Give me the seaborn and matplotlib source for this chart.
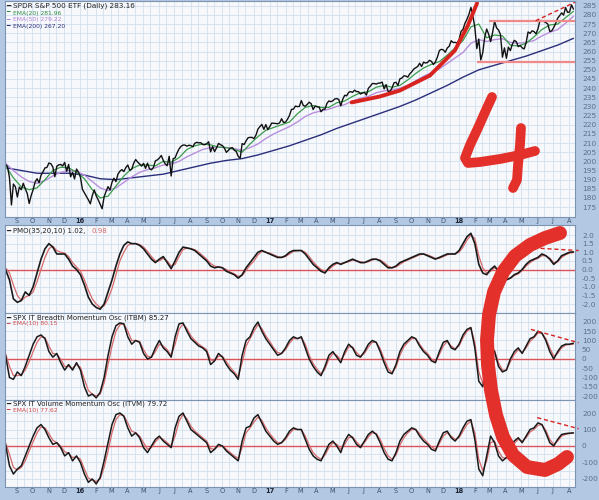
import numpy as np
import pandas as pd
import matplotlib
matplotlib.use("Agg")
import matplotlib.pyplot as plt
import seaborn as sns

sns.set_theme(style="white")
plt.rcParams["font.family"] = ["DejaVu Sans"]

# ---------------- data ----------------
START, END = "2015-08-10", "2018-08-10"

price = [
    198.2, 197.2, 191.1, 176.2, 187.6, 186.1,
    180.5, 185.9, 184.5, 188.0, 185.0, 182.5, 177.0, 181.3,
    184.5, 188.7, 190.5, 188.3, 192.4, 194.3, 196.4, 196.7,
    199.1, 198.7, 196.9, 191.6, 197.3, 198.1, 198.3, 197.5,
    199.4, 194.6, 198.3, 191.6, 194.0, 190.4, 195.8, 194.1,
    191.3, 184.7, 182.8, 180.9, 179.0, 176.8, 181.3, 184.4,
    181.1, 179.0, 176.5, 174.1, 180.7, 183.6, 186.2, 184.3,
    188.6, 190.8, 188.9, 193.0, 194.6, 195.5, 194.4, 196.6,
    198.0, 195.1, 195.7, 199.0, 201.0, 199.6, 198.6, 197.4,
    198.9, 196.2, 199.0, 196.0, 195.4, 196.6, 200.3, 200.8,
    201.8, 203.2, 200.5, 198.6, 197.6, 202.8, 192.0, 201.5,
    201.9, 204.6, 206.8, 208.2, 208.9, 208.9, 208.3, 208.8,
    208.6, 208.0, 209.9, 210.4, 210.1, 210.2, 209.2, 209.1,
    209.6, 210.7, 205.2, 208.1, 205.3, 207.3, 209.8, 209.1,
    208.6, 207.2, 204.9, 206.0, 207.2, 207.5, 206.1, 205.4,
    202.7, 201.7, 209.7, 209.2, 211.2, 212.9, 213.1, 213.1,
    212.4, 214.3, 217.6, 219.0, 220.2, 217.5, 220.1, 217.3,
    219.0, 220.9, 220.8, 220.7, 220.5, 221.0, 223.3, 221.2,
    221.5, 223.0, 225.1, 228.4, 228.5, 230.2, 229.9, 230.0,
    233.2, 230.5, 230.1, 231.1, 232.3, 231.5, 228.3, 230.2,
    229.8, 229.7, 227.1, 228.5, 228.5, 231.7, 233.0, 232.6,
    233.1, 234.1, 234.3, 233.8, 230.3, 233.9, 236.1, 235.8,
    237.7, 238.1, 237.7, 238.9, 238.1, 238.1, 236.8, 237.3,
    237.7, 236.2, 239.9, 241.1, 242.5, 242.5, 242.2, 242.7,
    242.8, 243.3, 239.6, 241.9, 238.2, 238.2, 240.1, 242.9,
    243.2, 241.5, 245.1, 245.5, 246.7, 246.6, 246.0, 247.8,
    248.9, 250.4, 251.1, 251.8, 253.6, 251.8, 254.2, 253.7,
    254.0, 255.2, 254.6, 252.9, 254.4, 256.9, 260.5, 261.2,
    260.9, 259.6, 261.9, 262.9, 265.9, 264.9, 265.0, 264.6,
    266.5, 271.0, 272.1, 275.5, 277.6, 280.3, 284.1, 279.5,
    273.1, 261.6, 266.8, 255.4, 259.3, 267.7, 272.3, 269.4,
    265.4, 270.4, 276.5, 272.9, 271.8, 269.2, 256.9, 262.0,
    256.3, 262.4, 260.5, 264.0, 266.1, 265.4, 262.7, 263.3,
    262.0, 261.4, 264.8, 270.7, 269.9, 271.3, 270.9, 269.7,
    272.3, 276.9, 276.9, 276.4, 275.8, 275.0, 271.0, 271.3,
    273.1, 275.4, 278.2, 279.6, 281.1, 279.9, 284.0, 281.4,
    281.5, 285.5, 283.16,
]

ema20 = [
    197.5, 191.0, 186.0, 184.5, 185.5, 190.0, 195.0, 196.8, 196.5, 194.0,
    190.5, 184.5, 180.0, 181.0, 186.5, 192.0, 196.0, 198.0, 198.0, 197.5,
    200.0, 199.5, 202.0, 206.5, 208.5, 209.5, 209.0, 207.8, 207.5, 206.5,
    205.0, 209.5, 213.5, 217.0, 218.5, 220.0, 221.5, 226.0, 229.5, 230.5,
    229.5, 229.5, 232.0, 233.0, 235.5, 237.5, 238.0, 240.5, 241.5, 240.5,
    241.5, 244.5, 248.0, 251.0, 253.0, 254.5, 258.0, 262.0, 266.0, 273.5,
    275.0, 267.5, 269.0, 268.5, 263.5, 263.0, 264.5, 268.0, 272.0, 274.5,
    275.0, 278.5, 281.96,
]

ema50 = [
    199.0, 195.0, 191.5, 189.0, 188.0, 189.5, 192.0, 194.0, 195.0, 194.5,
    192.5, 189.0, 185.5, 184.0, 185.5, 188.5, 191.5, 194.0, 195.5, 196.5,
    198.0, 198.5, 200.0, 202.5, 204.5, 206.5, 207.5, 207.8, 207.5, 207.0,
    206.0, 207.5, 209.5, 212.5, 215.0, 217.0, 219.0, 221.5, 224.5, 226.5,
    227.5, 228.5, 230.0, 231.0, 233.0, 234.5, 235.5, 237.5, 238.5, 239.0,
    240.0, 241.5, 244.0, 246.5, 248.5, 250.5, 253.5, 256.5, 259.5, 264.5,
    266.5, 265.5, 266.5, 267.0, 265.0, 264.5, 265.0, 266.0, 268.5, 270.5,
    272.0, 275.5, 279.22,
]

ema200 = [
    196.5, 195.0, 193.5, 193.5, 193.5, 192.5, 190.5, 190.0, 191.0, 192.0,
    193.0, 195.0, 197.0, 199.0, 200.5, 201.5, 203.5, 206.0, 208.5, 211.5,
    214.5, 218.0, 221.0, 224.0, 227.0, 230.0, 233.5, 237.5, 241.5, 246.0,
    250.0, 252.5, 255.0, 257.5, 260.5, 263.5, 267.2,
]

pmo = [
    0.0, -0.6, -1.7,
    -1.9, -1.8, -1.3, -1.5,  -1.0, -0.2, 0.6, 1.2,  1.5, 1.3, 0.9, 0.9,
    0.9, 0.6, 0.2, 0.0,  -0.3, -0.9, -1.6, -2.0,  -2.2, -2.3, -2.0, -1.3,
    -0.6, 0.2, 0.9, 1.4,  1.6, 1.5, 1.5, 1.4,  1.2, 0.9, 0.6, 0.4,
    0.6, 0.75, 0.4, 0.05,  0.5, 1.0, 1.3, 1.25,  1.2, 1.1, 0.9, 0.7,
    0.5, 0.2, 0.1, 0.15,  0.1, -0.1, -0.2, -0.3,  -0.5, -0.3, 0.1, 0.4,
    0.7, 1.0, 1.1, 1.0,  0.9, 0.8, 0.7, 0.7,  0.8, 1.0, 1.1, 1.1,
    1.1, 0.9, 0.6, 0.3,  0.1, -0.1, -0.2, 0.1,  0.3, 0.4, 0.3, 0.4,
    0.5, 0.6, 0.5, 0.4,  0.4, 0.5, 0.6, 0.6,  0.5, 0.3, 0.1, 0.1,
    0.2, 0.4, 0.5, 0.6,  0.7, 0.8, 0.9, 0.9,  0.8, 0.7, 0.6, 0.7,
    0.8, 0.9, 0.9, 0.9,  1.1, 1.5, 1.9, 2.1,  1.5, 0.3, -0.2, -0.3,
    0.0, 0.2, -0.1, -0.4,  -0.6, -0.5, -0.3, -0.2,  0.0, 0.3, 0.5, 0.6,
    0.7, 0.9, 0.8, 0.6,  0.3, 0.5, 0.8, 0.9,
    1.0, 1.02,
]

pmo_signal = [
    0.1, -0.2, -0.9,
    -1.5, -1.8, -1.6, -1.5,  -1.3, -0.7, 0.0, 0.7,  1.2, 1.35, 1.1, 1.0,
    0.95, 0.75, 0.4, 0.15,  -0.1, -0.6, -1.2, -1.7,  -2.0, -2.2, -2.1, -1.7,
    -1.1, -0.3, 0.5, 1.0,  1.4, 1.5, 1.5, 1.45,  1.3, 1.05, 0.75, 0.5,
    0.5, 0.65, 0.5, 0.2,  0.3, 0.75, 1.15, 1.25,  1.2, 1.15, 1.0, 0.8,
    0.6, 0.35, 0.2, 0.15,  0.1, 0.0, -0.15, -0.25,  -0.4, -0.35, -0.05, 0.25,
    0.5, 0.85, 1.05, 1.0,  0.95, 0.85, 0.75, 0.7,  0.75, 0.9, 1.05, 1.1,
    1.1, 1.0, 0.75, 0.45,  0.2, 0.0, -0.1, 0.0,  0.2, 0.35, 0.35, 0.4,
    0.45, 0.55, 0.5, 0.45,  0.4, 0.45, 0.55, 0.6,  0.55, 0.4, 0.2, 0.1,
    0.15, 0.3, 0.45, 0.55,  0.65, 0.75, 0.85, 0.9,  0.85, 0.75, 0.65, 0.65,
    0.75, 0.85, 0.9, 0.9,  1.0, 1.3, 1.7, 2.0,  1.8, 0.8, 0.1, -0.2,
    -0.1, 0.1, 0.0, -0.25,  -0.5, -0.5, -0.35, -0.25,  -0.05, 0.2, 0.4, 0.55,
    0.65, 0.8, 0.8, 0.65,  0.4, 0.45, 0.7, 0.85,
    0.95, 0.98,
]

itbm = [
    20, -100, -110,
    -70, -90, -40, 20,  80, 120, 130, 110,  40, 10, 30, -20,
    -60, -30, -60, -20,  -60, -150, -200, -190,  -210, -180, -100, 20,
    120, 180, 195, 190,  120, 80, 100, 90,  30, 0, 10, 60,
    100, 60, 40, 10,  120, 190, 195, 150,  110, 90, 70, 60,
    40, -30, -10, 30,  10, -30, -60, -80,  -110, 20, 100, 120,
    170, 200, 150, 110,  80, 50, 20, 30,  60, 100, 120, 110,
    120, 60, 0, -40,  -70, -90, -40, 20,  40, 10, -20, 40,
    80, 60, 20, 10,  40, 80, 100, 90,  40, -20, -70, -80,
    -30, 40, 80, 100,  120, 110, 70, 40,  20, -10, -20, 40,
    90, 100, 60, 50,  80, 130, 160, 170,  60, -120, -150, -40,
    80, 40, -40, -70,  -60, 0, 40, 60,  30, 70, 110, 120,
    150, 140, 100, 40,  0, 40, 70, 80,
    80, 85.27,
]

itbm_signal = [
    30, -40, -90,
    -90, -85, -60, -15,  40, 90, 120, 115,  70, 30, 25, 0,
    -40, -40, -50, -30,  -45, -110, -170, -190,  -200, -190, -130, -30,
    70, 150, 185, 190,  150, 100, 100, 95,  50, 15, 10, 40,
    80, 70, 50, 20,  80, 160, 190, 165,  125, 100, 80, 65,
    50, -5, -10, 15,  15, -15, -45, -70,  -95, -20, 70, 110,
    150, 185, 165, 125,  95, 60, 35, 30,  50, 85, 110, 110,
    115, 80, 20, -25,  -55, -80, -55, 0,  30, 20, -5, 25,
    65, 65, 35, 15,  30, 65, 90, 90,  55, 0, -50, -75,
    -45, 20, 65, 90,  110, 110, 80, 50,  30, 0, -15, 25,
    70, 95, 70, 55,  70, 115, 150, 165,  90, -70, -130, -70,
    40, 45, -20, -60,  -60, -15, 25, 50,  35, 60, 95, 115,
    140, 140, 110, 60,  15, 30, 60, 75,
    78, 80.15,
]

itvm = [
    10, -120, -170,
    -140, -120, -60, 0,  60, 110, 130, 100,  50, 10, 20, -10,
    -60, -40, -90, -60,  -100, -170, -220, -200,  -230, -190, -90, 20,
    130, 190, 200, 180,  110, 60, 80, 50,  -10, -40, 0, 40,
    60, 30, 10, -10,  110, 180, 200, 150,  100, 80, 60, 40,
    20, -40, -20, 10,  0, -30, -50, -70,  -90, 30, 110, 120,
    170, 190, 140, 90,  60, 30, 10, 20,  50, 90, 110, 100,
    100, 40, -20, -60,  -80, -90, -40, 10,  30, 0, -40, 30,
    70, 50, 10, -10,  30, 70, 90, 70,  20, -40, -80, -90,
    -40, 30, 70, 90,  110, 100, 60, 30,  10, -20, -30, 30,
    80, 90, 50, 30,  60, 110, 150, 160,  40, -140, -180, -60,
    60, 20, -60, -90,  -70, -10, 30, 50,  20, 60, 100, 110,
    140, 130, 80, 20,  0, 40, 70, 75,
    78, 79.72,
]

itvm_signal = [
    20, -50, -130,
    -145, -130, -90, -30,  25, 80, 115, 110,  75, 35, 20, 0,
    -35, -45, -70, -65,  -80, -140, -195, -205,  -215, -200, -130, -30,
    80, 160, 190, 185,  140, 90, 80, 60,  20, -20, -10, 25,
    50, 40, 20, 0,  60, 150, 190, 165,  120, 90, 70, 50,
    30, -15, -20, 0,  0, -20, -40, -60,  -75, -10, 80, 110,
    145, 175, 155, 110,  75, 45, 20, 20,  40, 75, 100, 100,
    100, 60, 5, -40,  -65, -80, -55, -10,  20, 10, -20, 10,
    50, 55, 25, 0,  20, 55, 80, 75,  40, -15, -60, -80,
    -55, 5, 50, 80,  100, 100, 75, 45,  20, -5, -20, 15,
    60, 80, 60, 40,  50, 90, 130, 150,  80, -80, -150, -90,
    20, 30, -30, -70,  -75, -30, 15, 40,  30, 50, 85, 100,
    125, 130, 95, 40,  10, 30, 60, 70,
    75, 77.62,
]

main_ticks = list(range(175, 290, 5))
pmo_ticks = [-2.0, -1.5, -1.0, -0.5, 0.0, 0.5, 1.0, 1.5, 2.0]
itbm_ticks = [-200, -150, -100, -50, 0, 50, 100, 150, 200]
itvm_ticks = [-200, -100, 0, 100, 200]

main_legend = [("SPDR S&P 500 ETF (Daily) 283.16", "#222222"),
               ("EMA(20) 281.96", "#2e8b3e"),
               ("EMA(50) 279.22", "#b57fd6"),
               ("EMA(200) 267.20", "#2b2f7a")]

# hand-drawn annotations (data units of their panel)
swoosh_dates = ["2017-06-08", "2017-08-01", "2017-09-09", "2017-11-06", "2017-12-24", "2018-01-18", "2018-02-05"]
swoosh_vals = [232.2, 235.4, 238.7, 246.9, 260.5, 274.1, 286.4]
pink_upper = ("2018-02-28", 276.5)
pink_lower = ("2018-02-05", 254.1)
price_dash_dates, price_dash_vals = ["2018-05-29", "2018-08-15"], [276.8, 287.2]
pmo_dash_dates, pmo_dash_vals = ["2018-05-25", "2018-08-20"], [1.25, 1.1]
itbm_dash_dates, itbm_dash_vals = ["2018-05-20", "2018-08-20"], [160, 88]
itvm_dash_dates, itvm_dash_vals = ["2018-06-01", "2018-08-20"], [172, 105]

# big hand-drawn figure "4" and bracket (figure pixel units)
four_a_x = [492, 486, 478, 470, 465, 468, 480, 500, 520, 535]
four_a_y = [97, 110, 128, 145, 158, 163, 162, 159, 155, 151]
four_b_x = [521, 520, 518, 517, 513]
four_b_y = [128, 145, 165, 180, 188]
bracket_x = [560, 545, 530, 515, 503, 494, 489, 487, 488, 491, 496, 503, 513, 527, 545, 558, 567]
bracket_y = [233, 238, 245, 256, 272, 292, 315, 340, 365, 390, 415, 437, 455, 467, 470, 464, 457]

# ---------------- drawing ----------------
W, H = 599, 500
BG = "#b3c8e2"
PANEL = "#f6f8fc"
GRID = "#d3dfee"
SPINE = "#7d93b2"
TICK = "#5d7090"
ZERO = "#d9555a"
SIG = "#d86a6a"
HAND = "#e3302a"

XMIN, XMAX = pd.Timestamp("2015-08-09"), pd.Timestamp("2018-08-13")
month_starts = pd.date_range("2015-09-01", "2018-08-01", freq="MS")
month_labels = [("%02d" % (d.year % 100)) if d.month == 1 else d.strftime("%b")[0] for d in month_starts]
grid_x = list(pd.date_range("2015-08-16", "2018-08-16", freq="SMS"))

fig = plt.figure(figsize=(W / 100, H / 100), dpi=100)
fig.patch.set_facecolor(BG)


def px_axes(x0, y0, x1, y1):
    ax = fig.add_axes([x0 / W, 1 - y1 / H, (x1 - x0) / W, (y1 - y0) / H])
    ax.set_facecolor(PANEL)
    for s in ax.spines.values():
        s.set_color(SPINE)
        s.set_linewidth(0.8)
    return ax


def style(ax, ylim, ticks, fmt, gy):
    ax.set_xlim(XMIN, XMAX)
    ax.set_ylim(*ylim)
    ax.yaxis.tick_right()
    ax.set_yticks(ticks)
    ax.set_yticklabels([fmt(t) for t in ticks], fontsize=5.3, color=TICK)
    ax.tick_params(axis="y", length=0, pad=5)
    ax.set_xticks(month_starts)
    ax.set_xticklabels([])
    ax.tick_params(axis="x", length=0)
    for g in gy:
        ax.axhline(g, color=GRID, lw=0.6, zorder=0)
    for d in grid_x:
        ax.axvline(d, color=GRID, lw=0.6, zorder=0)


def month_axis(ax, pad):
    ax.set_xticklabels(month_labels, fontsize=4.8, color="#3e5272")
    ax.tick_params(axis="x", pad=pad)
    for lab in ax.get_xticklabels():
        if lab.get_text().isdigit():
            lab.set_fontweight("bold")
            lab.set_color("#1c2333")


def dates_for(values):
    return pd.date_range(START, END, periods=len(values))


ax_main = px_axes(5, 1, 575, 217)
ax_pmo = px_axes(5, 225, 575, 313)
ax_itbm = px_axes(5, 313, 575, 400)
ax_itvm = px_axes(5, 400, 575, 487)

# main price panel
style(ax_main, (169.6, 287.6), main_ticks, lambda t: f"{t}", main_ticks)
sns.lineplot(x=dates_for(ema200), y=ema200, ax=ax_main, color="#2b2f7a", lw=1.0)
sns.lineplot(x=dates_for(ema50), y=ema50, ax=ax_main, color="#b98fdc", lw=1.0)
sns.lineplot(x=dates_for(ema20), y=ema20, ax=ax_main, color="#3a9a4a", lw=0.9)
sns.lineplot(x=dates_for(price), y=price, ax=ax_main, color="#111111", lw=1.0)
ax_main.hlines(pink_upper[1], pd.Timestamp(pink_upper[0]), XMAX, color="#f08a8a", lw=1.6)
ax_main.hlines(pink_lower[1], pd.Timestamp(pink_lower[0]), XMAX, color="#f08a8a", lw=1.6)
ax_main.plot(pd.to_datetime(swoosh_dates), swoosh_vals, color="#d8231f", lw=2.8,
             solid_capstyle="round", solid_joinstyle="round")
ax_main.plot(pd.to_datetime(price_dash_dates), price_dash_vals, color="#d8231f", lw=1.0,
             ls=(0, (3, 2)), clip_on=False)
month_axis(ax_main, 1.0)

# PMO panel
style(ax_pmo, (-2.52, 2.58), pmo_ticks, lambda t: f"{t:.1f}", pmo_ticks)
ax_pmo.axhline(0, color=ZERO, lw=1.0, zorder=1)
sns.lineplot(x=dates_for(pmo_signal), y=pmo_signal, ax=ax_pmo, color=SIG, lw=0.9)
sns.lineplot(x=dates_for(pmo), y=pmo, ax=ax_pmo, color="#1a1a1a", lw=1.2)
ax_pmo.plot(pd.to_datetime(pmo_dash_dates), pmo_dash_vals, color="#d8231f", lw=1.0,
            ls=(0, (3, 2)), clip_on=False)

# ITBM panel
style(ax_itbm, (-221.6, 248.6), itbm_ticks, lambda t: f"{t}", itbm_ticks)
ax_itbm.axhline(0, color=ZERO, lw=1.0, zorder=1)
sns.lineplot(x=dates_for(itbm_signal), y=itbm_signal, ax=ax_itbm, color=SIG, lw=0.9)
sns.lineplot(x=dates_for(itbm), y=itbm, ax=ax_itbm, color="#1a1a1a", lw=1.1)
ax_itbm.plot(pd.to_datetime(itbm_dash_dates), itbm_dash_vals, color="#d8231f", lw=1.0,
             ls=(0, (3, 2)), clip_on=False)

# ITVM panel
style(ax_itvm, (-248.5, 278.8), itvm_ticks, lambda t: f"{t}", [-200, -150, -100, -50, 0, 50, 100, 150, 200])
ax_itvm.axhline(0, color=ZERO, lw=1.0, zorder=1)
sns.lineplot(x=dates_for(itvm_signal), y=itvm_signal, ax=ax_itvm, color=SIG, lw=0.9)
sns.lineplot(x=dates_for(itvm), y=itvm, ax=ax_itvm, color="#1a1a1a", lw=1.1)
ax_itvm.plot(pd.to_datetime(itvm_dash_dates), itvm_dash_vals, color="#d8231f", lw=1.0,
             ls=(0, (3, 2)), clip_on=False)
month_axis(ax_itvm, 1.0)

for a in (ax_main, ax_pmo, ax_itbm, ax_itvm):
    a.set_xlabel(None)
    a.set_ylabel(None)


def legend_line(x, y, text, color, size, dash_color=None):
    fig.text((x - 1) / W, 1 - y / H, "━", color=dash_color or color, fontsize=size,
             va="center", ha="left", zorder=20)
    fig.text((x + 6) / W, 1 - y / H, text, color=color, fontsize=size, va="center", ha="left", zorder=20)


legend_line(7, 5.5, main_legend[0][0], main_legend[0][1], 5.2)
legend_line(7, 13, main_legend[1][0], main_legend[1][1], 4.3)
legend_line(7, 20, main_legend[2][0], main_legend[2][1], 4.3)
legend_line(7, 26.7, main_legend[3][0], main_legend[3][1], 4.3)

legend_line(7, 231, "PMO(35,20,10) 1.02,", "#222222", 5.0)
fig.text(91 / W, 1 - 231 / H, "0.98", color=SIG, fontsize=5.0, va="center", ha="left")
legend_line(7, 317.5, "SPX IT Breadth Momentum Osc (ITBM) 85.27", "#222222", 5.0)
legend_line(7, 324, "EMA(10) 80.15", "#d04848", 4.3)
legend_line(7, 404, "SPX IT Volume Momentum Osc (ITVM) 79.72", "#222222", 5.0)
legend_line(7, 410.5, "EMA(10) 77.62", "#d04848", 4.3)

# overlay for hand-drawn marks
ov = fig.add_axes([0, 0, 1, 1], zorder=30)
ov.set_xlim(0, W)
ov.set_ylim(H, 0)
ov.axis("off")
ov.patch.set_alpha(0)
ov.plot(four_a_x, four_a_y, color=HAND, lw=7, solid_capstyle="round", solid_joinstyle="round")
ov.plot(four_b_x, four_b_y, color=HAND, lw=7, solid_capstyle="round", solid_joinstyle="round")
ov.plot(bracket_x, bracket_y, color=HAND, lw=10, solid_capstyle="round", solid_joinstyle="round")

fig.savefig("out.png", dpi=100, facecolor=BG)
